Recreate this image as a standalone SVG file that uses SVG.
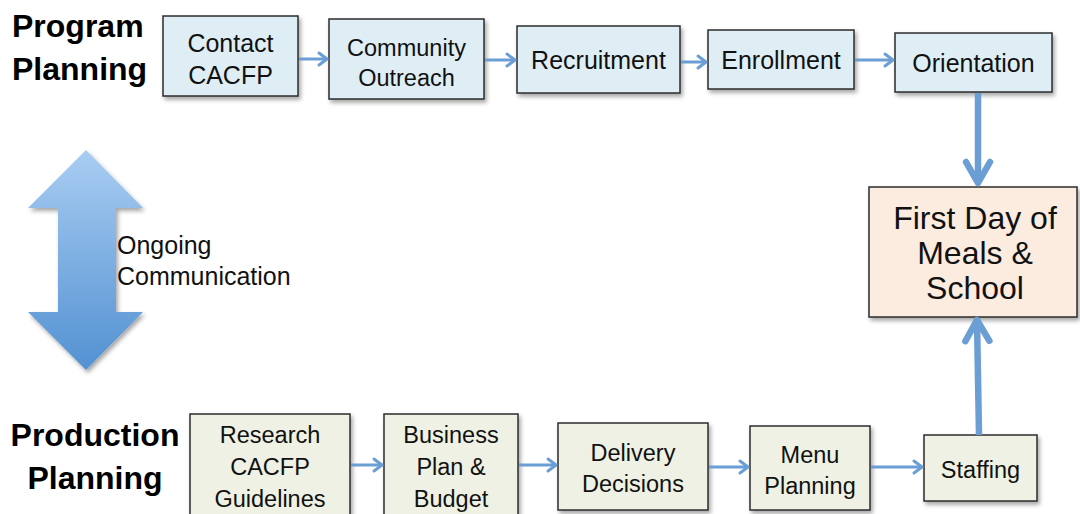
<svg xmlns="http://www.w3.org/2000/svg" width="1080" height="514" viewBox="0 0 1080 514">
  <style>
    .box { stroke: #2b2b2b; stroke-width: 1.5; filter: url(#shadow); }
    .prog { fill: #dfeef5; }
    .prod { fill: #eef1e3; }
    .goal { fill: #fcebdf; }
    .lbl { font-family: "Liberation Sans", Arial, sans-serif; fill: #111; text-anchor: middle; }
    .note { font-family: "Liberation Sans", Arial, sans-serif; fill: #111; text-anchor: start; font-size: 25px; }
    .head { font-family: "Liberation Sans", Arial, sans-serif; font-weight: bold; font-size: 32px; fill: #000; }
    .head.mid { text-anchor: middle; }
    .link { fill: none; stroke: #6a9ed4; stroke-width: 3; marker-end: url(#chev); }
    .link.big { stroke-width: 6.5; marker-end: url(#chevBig); }
  </style>
  <defs>
    <filter id="shadow" x="-10%" y="-10%" width="130%" height="140%">
      <feDropShadow dx="2" dy="3" stdDeviation="2" flood-color="#000" flood-opacity="0.35"/>
    </filter>
    <linearGradient id="arrowFill" x1="0" y1="0" x2="0" y2="1">
      <stop offset="0" stop-color="#a9cdf2"/>
      <stop offset="1" stop-color="#5391d2"/>
    </linearGradient>
    <marker id="chev" markerUnits="userSpaceOnUse" viewBox="-12 -9 15 18" refX="0" refY="0" markerWidth="15" markerHeight="18" orient="auto" overflow="visible">
      <path d="M-8,-6 L0,0 L-8,6" fill="none" stroke="#6a9ed4" stroke-width="3" stroke-linecap="round" stroke-linejoin="round"/>
    </marker>
    <marker id="chevBig" markerUnits="userSpaceOnUse" viewBox="-28 -16 32 32" refX="0" refY="0" markerWidth="32" markerHeight="32" orient="auto" overflow="visible">
      <path d="M-21,-12 L0,0 L-21,12" fill="none" stroke="#6a9ed4" stroke-width="6.5" stroke-linecap="round" stroke-linejoin="round"/>
    </marker>
  </defs>

  <rect width="1080" height="514" fill="#fff"/>

  <!-- row headings -->
  <g id="heading-program">
    <text class="head" x="12" y="37">Program</text>
    <text class="head" x="12" y="80">Planning</text>
  </g>
  <g id="heading-production">
    <text class="head mid" x="95" y="446">Production</text>
    <text class="head mid" x="95" y="489">Planning</text>
  </g>

  <!-- two-way communication arrow -->
  <g id="communication">
    <polygon points="86,150 143,208 116,208 116,312 143,312 86,370 28,312 58,312 58,208 28,208" fill="url(#arrowFill)" filter="url(#shadow)"/>
    <text class="note" x="117" y="254">Ongoing</text>
    <text class="note" x="117" y="285">Communication</text>
  </g>

  <!-- program planning steps -->
  <g id="contact-cacfp">
    <rect class="box prog" x="163" y="16" width="135" height="80"/>
    <text class="lbl" x="230.5" y="52" font-size="25">Contact</text>
    <text class="lbl" x="230.5" y="84" font-size="25">CACFP</text>
  </g>
  <g id="community-outreach">
    <rect class="box prog" x="329" y="19" width="155" height="80"/>
    <text class="lbl" x="406.5" y="56" font-size="23.5">Community</text>
    <text class="lbl" x="406.5" y="86" font-size="23.5">Outreach</text>
  </g>
  <g id="recruitment">
    <rect class="box prog" x="517" y="26" width="163" height="67"/>
    <text class="lbl" x="598.5" y="69" font-size="25">Recruitment</text>
  </g>
  <g id="enrollment">
    <rect class="box prog" x="708" y="30" width="146" height="59"/>
    <text class="lbl" x="781" y="69" font-size="25">Enrollment</text>
  </g>
  <g id="orientation">
    <rect class="box prog" x="895" y="33" width="157" height="59"/>
    <text class="lbl" x="973.5" y="72" font-size="25">Orientation</text>
  </g>

  <!-- shared goal -->
  <g id="first-day">
    <rect class="box goal" x="869" y="187" width="208" height="130"/>
    <text class="lbl" x="975" y="229" font-size="32">First Day of</text>
    <text class="lbl" x="975" y="264" font-size="32">Meals &amp;</text>
    <text class="lbl" x="975" y="299" font-size="32">School</text>
  </g>

  <!-- production planning steps -->
  <g id="research-guidelines">
    <rect class="box prod" x="190" y="414" width="160" height="110"/>
    <text class="lbl" x="270" y="443" font-size="23.5">Research</text>
    <text class="lbl" x="270" y="475" font-size="23.5">CACFP</text>
    <text class="lbl" x="270" y="507" font-size="23.5">Guidelines</text>
  </g>
  <g id="business-plan">
    <rect class="box prod" x="384" y="414" width="134" height="110"/>
    <text class="lbl" x="451" y="443" font-size="23.5">Business</text>
    <text class="lbl" x="451" y="475" font-size="23.5">Plan &amp;</text>
    <text class="lbl" x="451" y="507" font-size="23.5">Budget</text>
  </g>
  <g id="delivery-decisions">
    <rect class="box prod" x="558" y="423" width="150" height="87"/>
    <text class="lbl" x="633" y="461" font-size="23.5">Delivery</text>
    <text class="lbl" x="633" y="492" font-size="23.5">Decisions</text>
  </g>
  <g id="menu-planning">
    <rect class="box prod" x="750" y="426" width="120" height="84"/>
    <text class="lbl" x="810" y="463" font-size="23.5">Menu</text>
    <text class="lbl" x="810" y="494" font-size="23.5">Planning</text>
  </g>
  <g id="staffing">
    <rect class="box prod" x="924" y="435" width="113" height="66"/>
    <text class="lbl" x="980.5" y="478" font-size="23.5">Staffing</text>
  </g>

  <!-- connectors -->
  <g id="connectors">
    <path class="link" d="M299,59 H327"/>
    <path class="link" d="M485,60 H515"/>
    <path class="link" d="M681,62 H706"/>
    <path class="link" d="M855,60 H893"/>
    <path class="link big" d="M978,93 V183"/>
    <path class="link big" d="M979,435 L977,320"/>
    <path class="link" d="M351,465 H382"/>
    <path class="link" d="M519,465 H556"/>
    <path class="link" d="M709,467 H748"/>
    <path class="link" d="M871,467 H922"/>
  </g>
</svg>
